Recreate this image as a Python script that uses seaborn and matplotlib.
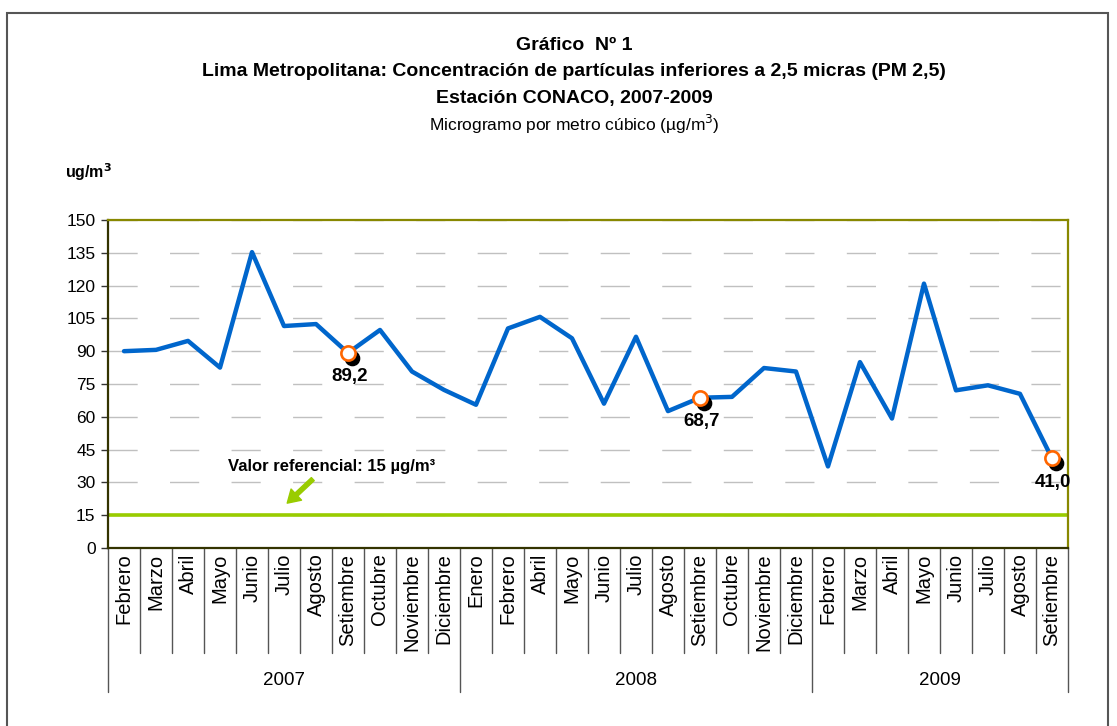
import numpy as np
import pandas as pd
import matplotlib
matplotlib.use('Agg')
import matplotlib.pyplot as plt
import matplotlib.transforms as mtransforms
import matplotlib.patches as mpatches
import seaborn as sns

# DATA
years = ['2007', '2008', '2009']
months_2007 = ['Febrero', 'Marzo', 'Abril', 'Mayo', 'Junio', 'Julio', 'Agosto',
               'Setiembre', 'Octubre', 'Noviembre', 'Diciembre']
months_2008 = ['Enero', 'Febrero', 'Abril', 'Mayo', 'Junio', 'Julio', 'Agosto',
               'Setiembre', 'Octubre', 'Noviembre', 'Diciembre']
months_2009 = ['Febrero', 'Marzo', 'Abril', 'Mayo', 'Junio', 'Julio', 'Agosto',
               'Setiembre']
pm25_2007 = [90.0, 90.6, 94.7, 82.5, 135.3, 101.5, 102.4, 89.2, 99.7, 80.7, 72.3]
pm25_2008 = [65.5, 100.4, 105.7, 95.9, 66.0, 96.6, 62.6, 68.7, 69.1, 82.3, 80.7]
pm25_2009 = [37.3, 85.0, 59.2, 120.9, 72.1, 74.4, 70.5, 41.0]
highlight_month = 'Setiembre'
ref_value = 15
y_ticks = [0, 15, 30, 45, 60, 75, 90, 105, 120, 135, 150]

months = months_2007 + months_2008 + months_2009
values = pm25_2007 + pm25_2008 + pm25_2009
year_col = ([years[0]] * len(months_2007) + [years[1]] * len(months_2008)
            + [years[2]] * len(months_2009))
df = pd.DataFrame({'pos': np.arange(len(months)), 'mes': months,
                   'anio': year_col, 'valor': values})
# last month of each year (Setiembre) gets a highlighted marker
hl = df[df.mes == highlight_month]

sns.set_style('white')
plt.rcParams['font.family'] = ['Liberation Sans', 'DejaVu Sans']
plt.rcParams['text.color'] = 'black'
plt.rcParams['xtick.color'] = 'black'
plt.rcParams['ytick.color'] = 'black'

fig = plt.figure(figsize=(11.17, 7.26), dpi=100)
ax = fig.add_axes([0.0967, 0.2452, 0.8594, 0.4518])

# reference line
ax.axhline(ref_value, color='#99CC00', lw=2.6, zorder=2)

sns.lineplot(data=df, x='pos', y='valor', color='#0066CC', lw=3.2, ax=ax,
             zorder=3, legend=False)

# highlighted points: black shadow + white/orange marker
shadow = mtransforms.offset_copy(ax.transData, fig=fig, x=3, y=-3.5, units='points')
ax.scatter(hl.pos, hl.valor, s=105, color='black', transform=shadow, zorder=4)
sns.scatterplot(data=hl, x='pos', y='valor', s=105, color='white',
                edgecolor='#FF6600', linewidth=1.9, ax=ax, zorder=5, legend=False)
for _, r in hl.iterrows():
    ax.annotate(f"{r.valor:.1f}".replace('.', ','), (r.pos, r.valor),
                xytext=(1, -11), textcoords='offset points', ha='center',
                va='top', fontsize=13.5, fontweight='bold', zorder=6)

n = len(df)
ax.set_xlim(-0.5, n - 0.5)
ax.set_ylim(0, 150)
ax.set_yticks(y_ticks)
ax.set_yticklabels([str(t) for t in y_ticks], fontsize=12.5)
ax.tick_params(axis='y', left=True, length=5, width=1, color='#333333', pad=4)
ax.set_xticks(df.pos)
ax.set_xticklabels(df.mes, rotation=90, fontsize=14.5)
ax.tick_params(axis='x', length=0, pad=4)
ax.set_xlabel('')
ax.set_ylabel('')

ax.yaxis.grid(True, color='#C0C0C0', lw=1, linestyle=(0, (21, 23.3)))
ax.set_axisbelow(True)

for side in ['top', 'right']:
    ax.spines[side].set_color('#888800')
    ax.spines[side].set_linewidth(1.6)
for side in ['left', 'bottom']:
    ax.spines[side].set_color('#333300')
    ax.spines[side].set_linewidth(1.6)

# category separators below the axis
trans = mtransforms.blended_transform_factory(ax.transData, ax.transAxes)
starts = [0, len(months_2007), len(months_2007) + len(months_2008), n]
for b in range(n + 1):
    low = -0.44 if b in starts else -0.32
    ax.plot([b - 0.5, b - 0.5], [0, low], transform=trans, color='#555555',
            lw=1, clip_on=False)
for i, yr in enumerate(years):
    ax.text((starts[i] + starts[i + 1] - 1) / 2, -0.405, yr, transform=trans,
            ha='center', va='center', fontsize=13.5)

# reference annotation
ax.text(3.25, 37.3, 'Valor referencial: 15 µg/m³', fontsize=12,
        fontweight='bold', va='center', ha='left')
ax.annotate('', xy=(5.1, 20.5), xytext=(5.9, 31.5),
            arrowprops=dict(facecolor='#99CC00', edgecolor='#99CC00',
                            width=3, headwidth=11, headlength=9))

# titles
fig.text(0.514, 1 - 45 / 726, 'Gráfico  Nº 1', ha='center', va='center',
         fontsize=14, fontweight='bold')
fig.text(0.514, 1 - 72 / 726,
         'Lima Metropolitana: Concentración de partículas inferiores a 2,5 micras (PM 2,5)',
         ha='center', va='center', fontsize=14, fontweight='bold')
fig.text(0.514, 1 - 98 / 726, 'Estación CONACO, 2007-2009', ha='center',
         va='center', fontsize=14, fontweight='bold')
fig.text(0.514, 1 - 124 / 726, 'Microgramo por metro cúbico (µg/m$^3$)',
         ha='center', va='center', fontsize=12.5)
fig.text(65 / 1117, 1 - 172 / 726, 'ug/m$^\\mathbf{3}$', ha='left', va='center',
         fontsize=11.5, fontweight='bold')

# outer frame
fig.patches.append(mpatches.Rectangle((7 / 1117, -0.05), 1101 / 1117, 1.05 - 13 / 726,
                                      transform=fig.transFigure, fill=False,
                                      edgecolor='#555555', lw=1.5))

fig.savefig('out.png', dpi=100)
